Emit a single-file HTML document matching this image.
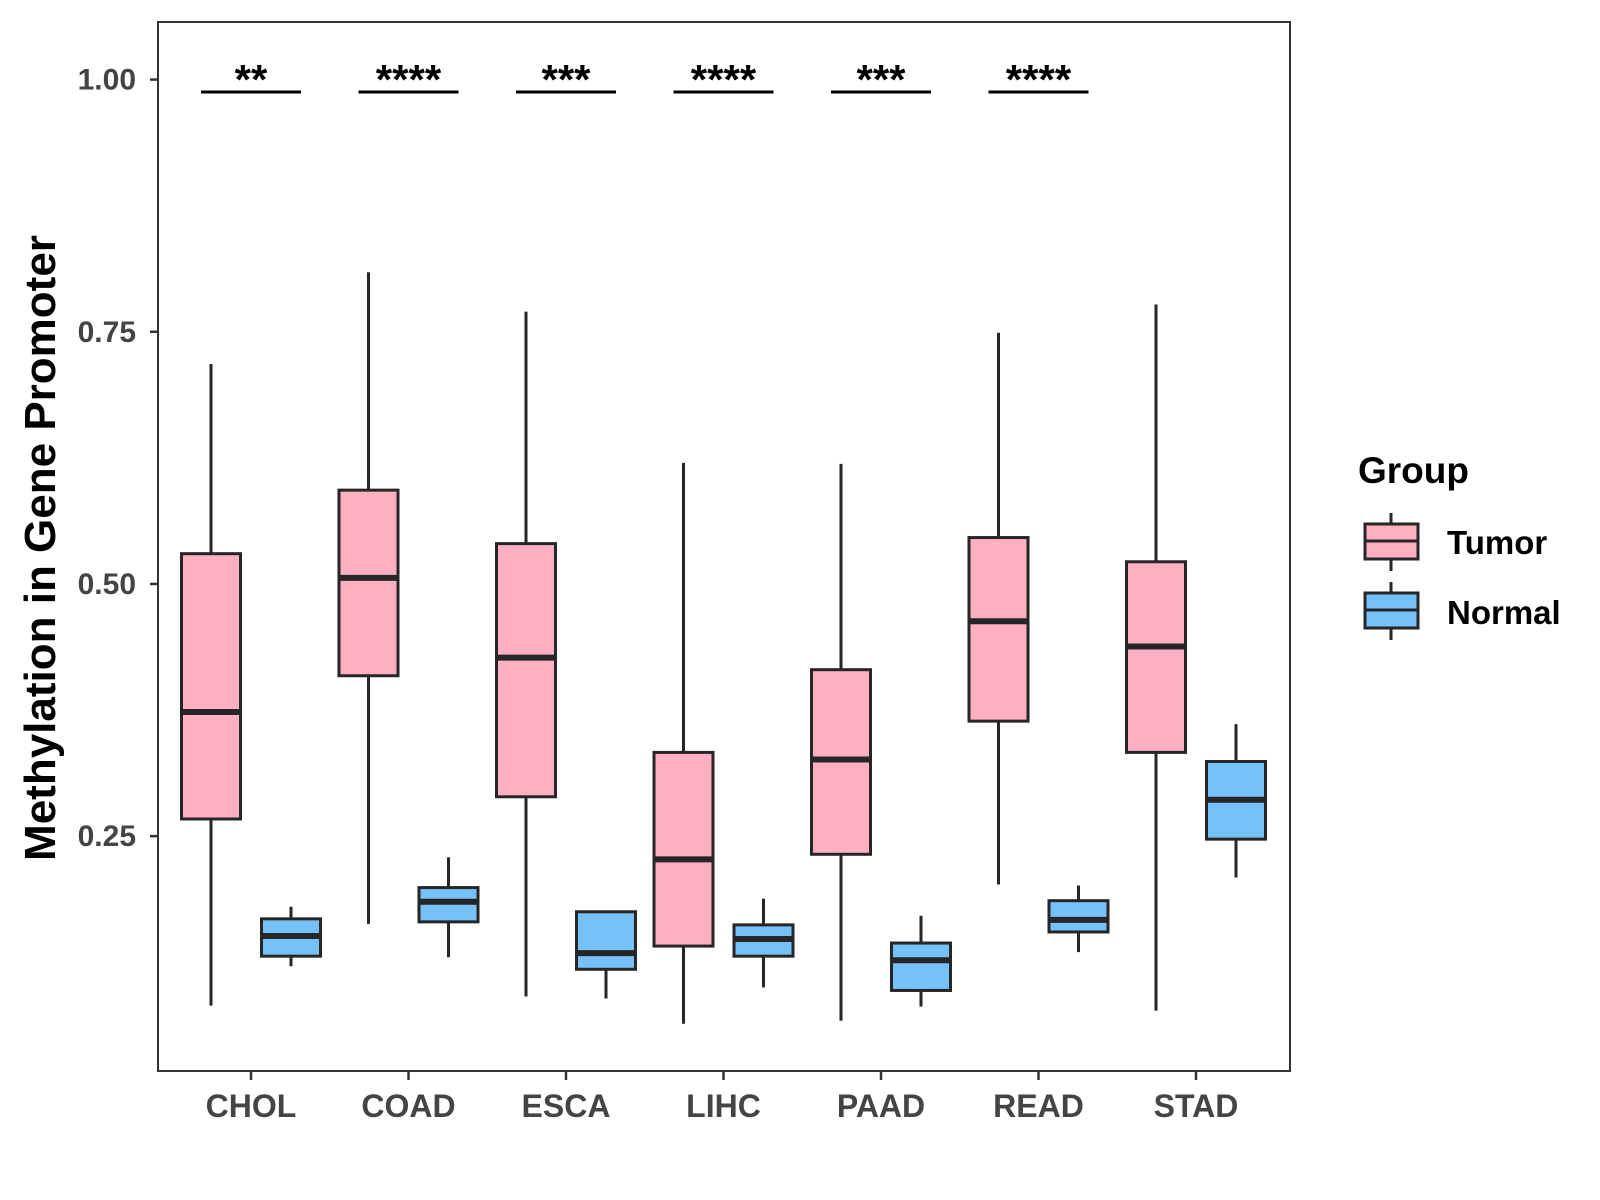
<!DOCTYPE html>
<html><head><meta charset="utf-8"><style>
html,body{margin:0;padding:0;background:#fff;}
svg{display:block;font-family:"Liberation Sans",Arial,sans-serif;}
</style></head><body>
<svg id="chart" width="1600" height="1200" viewBox="0 0 1600 1200">
<rect x="0" y="0" width="1600" height="1200" fill="#fff"/>
<g id="plot"></g>
<text x="0" y="0" transform="translate(55,548) rotate(-90)" text-anchor="middle" font-size="44" font-weight="bold" fill="#000">Methylation in Gene Promoter</text>
<g>
<text x="1358" y="483" font-size="37" font-weight="bold" fill="#000">Group</text>
<g>
<line x1="1391" y1="513" x2="1391" y2="571" stroke="#262626" stroke-width="3"/>
<rect x="1365" y="524" width="53" height="35" fill="#FFAFC2" stroke="#262626" stroke-width="3"/>
<line x1="1365" y1="541" x2="1418" y2="541" stroke="#262626" stroke-width="3"/>
<text x="1447" y="554" font-size="33" font-weight="bold" fill="#000">Tumor</text>
</g>
<g>
<line x1="1391" y1="582" x2="1391" y2="640" stroke="#262626" stroke-width="3"/>
<rect x="1365" y="593" width="53" height="35" fill="#75C1F8" stroke="#262626" stroke-width="3"/>
<line x1="1365" y1="610" x2="1418" y2="610" stroke="#262626" stroke-width="3"/>
<text x="1447" y="624" font-size="33" font-weight="bold" fill="#000">Normal</text>
</g>
</g>
</svg>
<script>
const categories = ["CHOL","COAD","ESCA","LIHC","PAAD","READ","STAD"];
const tumorMin = [0.082,0.163,0.091,0.064,0.067,0.202,0.077];
const tumorQ1  = [0.267,0.409,0.289,0.141,0.232,0.364,0.333];
const tumorMed = [0.373,0.506,0.427,0.227,0.326,0.463,0.438];
const tumorQ3  = [0.530,0.593,0.540,0.333,0.415,0.546,0.522];
const tumorMax = [0.718,0.809,0.770,0.620,0.619,0.749,0.777];
const normalMin = [0.121,0.130,0.089,0.100,0.081,0.135,0.209];
const normalQ1  = [0.131,0.165,0.118,0.131,0.097,0.155,0.247];
const normalMed = [0.151,0.185,0.134,0.148,0.127,0.167,0.286];
const normalQ3  = [0.168,0.199,0.175,0.162,0.144,0.186,0.324];
const normalMax = [0.180,0.229,0.175,0.188,0.171,0.201,0.361];
const sigLabels = ["**","****","***","****","***","****"];
const yTicks = [0.25,0.50,0.75,1.00];
const yTickLabels = ["0.25","0.50","0.75","1.00"];

const NS="http://www.w3.org/2000/svg";
const panel={l:158,t:22,r:1290,b:1071};
function yScale(v){return 79.6+(1-v)*1008.7;}
function xScale(i){return 251+i*157.5;}
const g=document.getElementById('plot');
function mk(tag,attrs,parent){const e=document.createElementNS(NS,tag);for(const k in attrs)e.setAttribute(k,attrs[k]);(parent||g).appendChild(e);return e;}

const frame=mk('rect',{x:panel.l,y:panel.t,width:panel.r-panel.l,height:panel.b-panel.t,fill:'none',stroke:'#333',"stroke-width":2});



yTicks.forEach((v,i)=>{
  const y=yScale(v);
  const t=mk('line',{x1:panel.l-8,y1:y,x2:panel.l,y2:y,stroke:'#333',"stroke-width":2.5});
  
  
  const tx=mk('text',{x:panel.l-22,y:y+10,"text-anchor":"end","font-size":30,"font-weight":"bold",fill:'#444'});
  tx.textContent=yTickLabels[i];
  
  
});

categories.forEach((c,i)=>{
  const x=xScale(i);
  const t=mk('line',{x1:x,y1:panel.b,x2:x,y2:panel.b+9,stroke:'#333',"stroke-width":2.5});
  
  
  const tx=mk('text',{x:x,y:1117,"text-anchor":"middle","font-size":32,"font-weight":"bold",fill:'#444'});
  tx.textContent=c;
  
  
});

function box(cx,mn,q1,md,q3,mx,fill,name){
  const grp=mk('g',{});
  
  
  const w=59;
  mk('line',{x1:cx,y1:yScale(mx),x2:cx,y2:yScale(q3),stroke:'#262626',"stroke-width":3},grp);
  mk('line',{x1:cx,y1:yScale(q1),x2:cx,y2:yScale(mn),stroke:'#262626',"stroke-width":3},grp);
  mk('rect',{x:cx-w/2,y:yScale(q3),width:w,height:yScale(q1)-yScale(q3),fill:fill,stroke:'#262626',"stroke-width":3},grp);
  mk('line',{x1:cx-w/2,y1:yScale(md),x2:cx+w/2,y2:yScale(md),stroke:'#262626',"stroke-width":6},grp);
}
categories.forEach((c,i)=>{
  const x=xScale(i);
  box(x-40,tumorMin[i],tumorQ1[i],tumorMed[i],tumorQ3[i],tumorMax[i],'#FFAFC2','box-tumor-'+c.toLowerCase());
  box(x+40,normalMin[i],normalQ1[i],normalMed[i],normalQ3[i],normalMax[i],'#75C1F8','box-normal-'+c.toLowerCase());
});

sigLabels.forEach((s,i)=>{
  const x=xScale(i);
  const l=mk('line',{x1:x-50,y1:92,x2:x+50,y2:92,stroke:'#000',"stroke-width":3});
  
  
  const t=mk('text',{x:x,y:94,"text-anchor":"middle","font-size":42,"font-weight":"bold",fill:'#000'});
  t.textContent=s;
  
  
});
</script>
</body></html>
